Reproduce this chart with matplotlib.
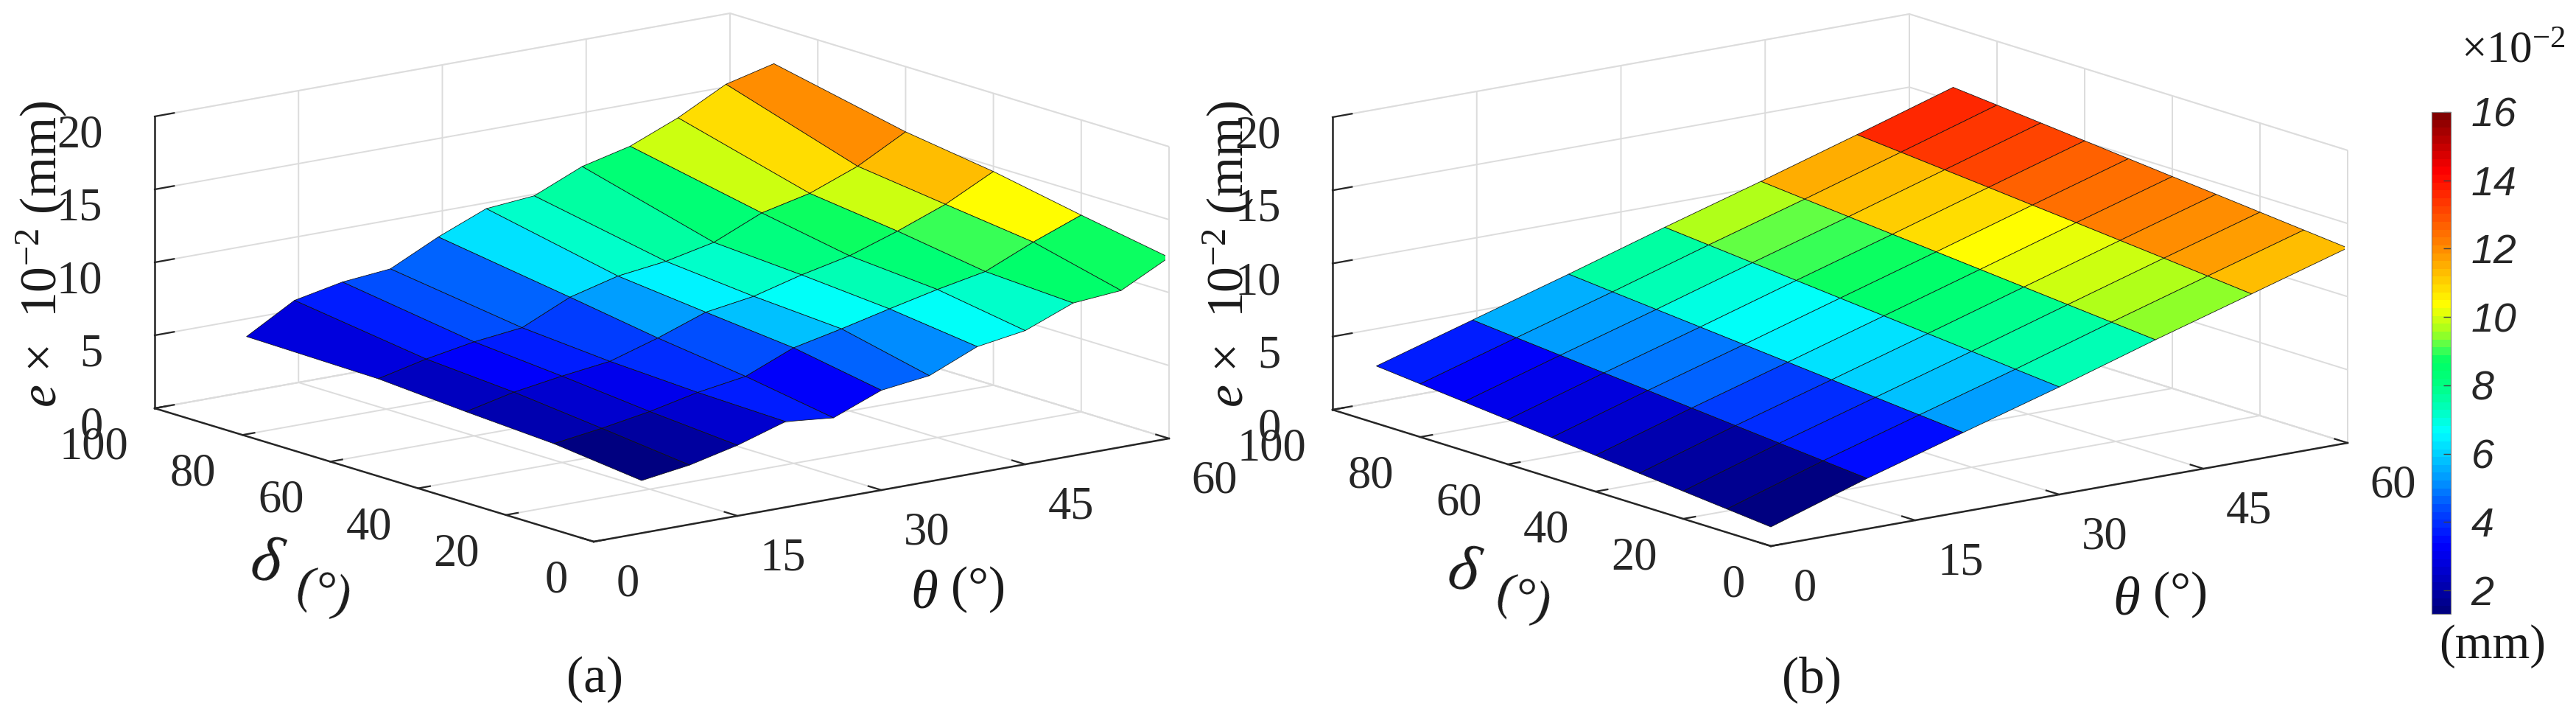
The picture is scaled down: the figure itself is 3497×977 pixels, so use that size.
import numpy as np
import matplotlib
matplotlib.use('Agg')
import matplotlib.pyplot as plt
from matplotlib.cm import ScalarMappable
from matplotlib.colors import LinearSegmentedColormap, Normalize

# ---------- data ----------
theta_a = [5, 10, 15, 20, 25, 30, 35, 40, 45, 50, 55, 60]
delta_a = [0, 20, 40, 60, 90]
e_a_d0 = [3.60, 4.07, 4.84, 5.87, 5.54, 6.84, 7.25, 8.65, 9.16, 10.46, 10.73, 12.41]
e_a_d20 = [4.30, 4.76, 5.32, 6.04, 6.55, 7.92, 8.63, 9.41, 10.15, 10.79, 12.22, 13.48]
e_a_d40 = [4.66, 5.41, 5.92, 6.34, 7.35, 8.53, 9.03, 9.91, 10.63, 11.73, 12.98, 14.64]
e_a_d60 = [5.09, 5.85, 6.44, 6.82, 8.32, 9.18, 9.60, 10.31, 11.74, 12.49, 13.76, 15.53]
e_a_d90 = [5.24, 7.13, 7.80, 8.11, 9.71, 11.06, 11.35, 12.77, 13.57, 14.93, 16.64, 17.46]

theta_b = [0, 10, 20, 30, 40, 50, 60]
delta_b = [0, 10, 20, 30, 40, 50, 60, 70, 80, 90]
e_b_d0 = [1.31, 3.45, 5.41, 7.35, 9.40, 11.36, 13.33]
e_b_d10 = [1.60, 3.72, 5.68, 7.63, 9.67, 11.65, 13.62]
e_b_d20 = [1.89, 3.99, 5.95, 7.92, 9.94, 11.94, 13.91]
e_b_d30 = [2.18, 4.26, 6.22, 8.20, 10.21, 12.22, 14.20]
e_b_d40 = [2.47, 4.53, 6.49, 8.48, 10.48, 12.50, 14.48]
e_b_d50 = [2.76, 4.80, 6.76, 8.76, 10.75, 12.77, 14.77]
e_b_d60 = [3.05, 5.07, 7.03, 9.04, 11.02, 13.05, 15.06]
e_b_d70 = [3.34, 5.34, 7.30, 9.32, 11.29, 13.32, 15.35]
e_b_d80 = [3.63, 5.61, 7.57, 9.60, 11.56, 13.59, 15.64]
e_b_d90 = [3.92, 5.89, 7.85, 9.88, 11.84, 13.86, 15.92]

theta_ticks = [0, 15, 30, 45, 60]
delta_ticks = [0, 20, 40, 60, 80, 100]
z_ticks = [0, 5, 10, 15, 20]
cbar_ticks = [2, 4, 6, 8, 10, 12, 14, 16]

# ---------- style ----------
W, H = 3497, 977
SERIF = 'Liberation Serif'
plt.rcParams.update({
    'font.family': SERIF,
    'mathtext.fontset': 'custom',
    'mathtext.rm': SERIF,
    'mathtext.it': SERIF + ':italic',
    'mathtext.bf': SERIF + ':bold',
    'grid.color': '#dcdcdc',
    'grid.linewidth': 1.4,
    'axes.edgecolor': '#262626',
    'axes.linewidth': 1.8,
    'text.color': '#1a1a1a',
    'xtick.color': '#262626', 'ytick.color': '#262626',
})

anchors = [(0.0, (0, 0, 128)), (0.073, (0, 0, 200)), (0.132, (0, 0, 255)),
           (0.2, (0, 70, 255)), (0.254, (0, 140, 255)), (0.308, (0, 200, 255)),
           (0.361, (0, 255, 255)), (0.405, (0, 255, 190)), (0.455, (0, 255, 130)),
           (0.504, (0, 255, 100)), (0.533, (80, 255, 80)), (0.562, (160, 255, 30)),
           (0.617, (255, 255, 0)), (0.743, (255, 128, 0)), (0.885, (255, 0, 0)),
           (1.0, (130, 0, 0))]
cmap = LinearSegmentedColormap.from_list(
    'jet_ref', [(f, tuple(c / 255 for c in col)) for f, col in anchors], N=64)

fig = plt.figure(figsize=(W / 100, H / 100), dpi=100, facecolor='white')


def px(x, y):
    return x / W, 1 - y / H


def box_axes(left, front, right, ztop_y):
    """3-D axes whose orthographic box lands on the given pixel corners."""
    vx, vy = right[0] - front[0], front[1] - right[1]
    ux, uy = front[0] - left[0], front[1] - left[1]
    ratio = np.sqrt((vx / ux) / (vy / uy))
    ang = np.arctan(ratio)
    s, k = np.sin(ang), np.cos(ang)
    e = vy / vx * ratio
    el = np.arcsin(e)
    a, b, c = vx / s, ux / k, (left[1] - ztop_y) / np.cos(el)
    side = 0.185 / (0.1 * 1.8294640721620434 * 25 / 24) * np.linalg.norm([a, b, c])
    cx = (left[0] + right[0]) / 2
    cy = (left[1] + right[1]) / 2 - (left[1] - ztop_y) / 2
    x0 = cx - side * 0.95 / 1.85
    y0 = (H - cy) - side * 0.95 / 1.85
    ax = fig.add_axes([x0 / W, y0 / H, side / W, side / H], projection='3d',
                      proj_type='ortho', azim=np.degrees(ang) - 180,
                      elev=np.degrees(el))
    ax.set_box_aspect((a, b, c))
    return ax


def panel(ax, theta, delta, e, norm):
    T, D = np.meshgrid(theta, delta)
    Z = np.array(e)
    surf = ax.plot_surface(T, D, Z, facecolors=cmap(norm(Z)), rstride=1, cstride=1,
                           shade=False, antialiased=True)
    surf.set_edgecolor('#101010')
    surf.set_linewidth(0.55)
    ax.set_xlim(0, 60, view_margin=0)
    ax.set_ylim(0, 100, view_margin=0)
    ax.set_zlim(0, 20, view_margin=0)
    ax.set_xticks(theta_ticks)
    ax.set_yticks(delta_ticks)
    ax.set_zticks(z_ticks)
    ax.set_facecolor('none')
    factors = {ax.xaxis: 0.37, ax.yaxis: 0.26, ax.zaxis: 0.42}
    for axis, factor in factors.items():
        axis.pane.set_facecolor('white')
        axis.pane.set_edgecolor('#dcdcdc')
        axis.pane.set_linewidth(1.4)
        axis._axinfo['tick']['inward_factor'] = 0.0
        axis._axinfo['tick']['outward_factor'] = factor
        axis._axinfo['tick']['linewidth'] = {True: 1.6, False: 1.0}
    ax.tick_params(axis='x', labelsize=45, pad=19)
    ax.tick_params(axis='y', labelsize=45, pad=16)
    ax.tick_params(axis='z', labelsize=45, pad=19)
    ax.set_xticklabels(theta_ticks, ha='left')
    ax.set_yticklabels(delta_ticks, ha='right')
    ax.set_zticklabels(z_ticks, ha='right')


norm_a = Normalize(3.60, 17.46)
norm_b = Normalize(1.31, 16.0)

ax_a = box_axes((210, 554), (806, 735), (1587, 595), 158)
panel(ax_a, theta_a, delta_a, [e_a_d0, e_a_d20, e_a_d40, e_a_d60, e_a_d90], norm_a)

ax_b = box_axes((1809, 556), (2404, 741), (3187, 601), 159)
panel(ax_b, theta_b, delta_b,
      [e_b_d0, e_b_d10, e_b_d20, e_b_d30, e_b_d40, e_b_d50, e_b_d60, e_b_d70, e_b_d80, e_b_d90],
      norm_b)

# ---------- labels ----------
ZLABEL = r'$\mathit{e}$  ×  10$^{\mathrm{-2}}$ (mm)'.replace('  ', ' ', 1)


def label(x, y, s, size=50, **kw):
    fig.text(*px(x, y), s, fontsize=size, ha='center', va='center', **kw)


label(57, 345, ZLABEL, rotation=90)
label(1668, 345, ZLABEL, rotation=90)
label(361, 767, 'δ', size=62, style='italic', rotation=-12)
label(439, 806, '(°)', rotation=-15)
label(1255, 807, 'θ', size=54, style='italic')
label(1328, 800, '(°)')
label(1986, 779, 'δ', size=62, style='italic', rotation=-12)
label(2068, 815, '(°)', rotation=-15)
label(2887, 816, 'θ', size=54, style='italic')
label(2960, 807, '(°)')
label(807, 922, '(a)')
label(2459, 922, '(b)')

# ---------- colorbar ----------
cax = fig.add_axes([3301 / W, (H - 833) / H, 26 / W, 681 / H])
cb = fig.colorbar(ScalarMappable(norm=norm_b, cmap=cmap), cax=cax)
cb.set_ticks(cbar_ticks)
cb.outline.set_edgecolor('#808080')
cb.outline.set_linewidth(0.8)
cax.tick_params(axis='y', direction='in', length=7, width=1, color='#404040', pad=20, labelsize=40)
for t in cax.get_yticklabels():
    t.set_fontfamily('Liberation Sans')
    t.set_fontstyle('italic')
    t.set_color('#262626')
label(3412, 70, r'×10$^{\mathrm{-2}}$', size=44)
label(3384, 877, '(mm)', size=47)

fig.savefig('out.png', dpi=100, facecolor='white')
